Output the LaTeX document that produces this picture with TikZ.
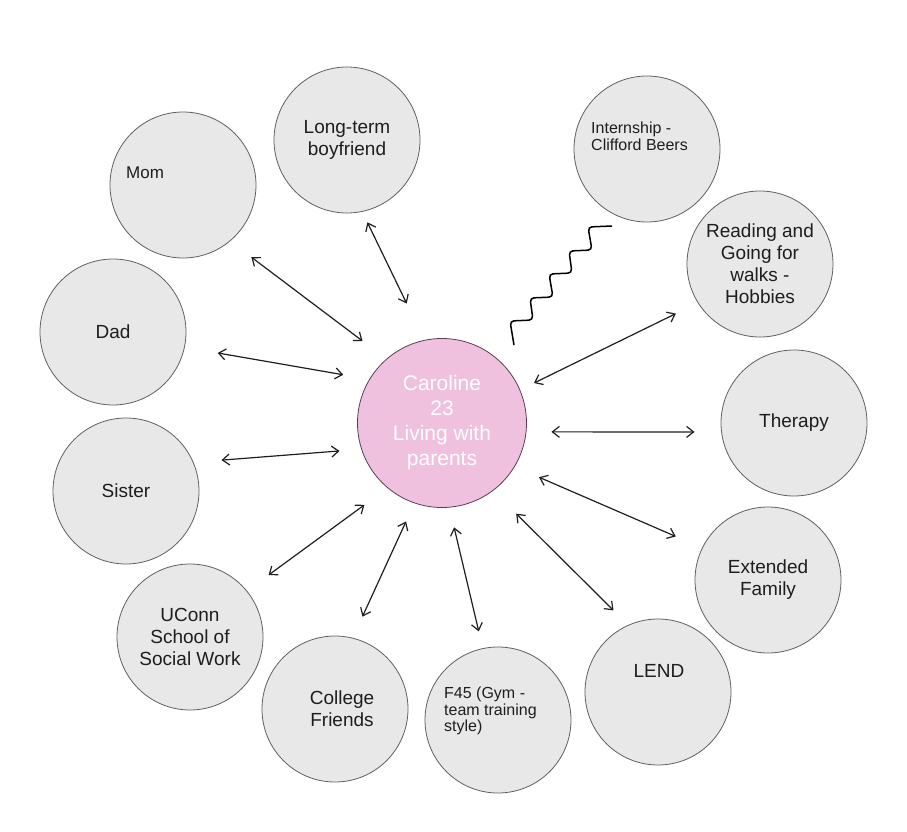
\documentclass[tikz,border=0pt]{standalone}
\usepackage{fontspec}
\setmainfont{Liberation Sans}
\usepackage{tikz}
\usetikzlibrary{arrows.meta}
\definecolor{ecogray}{RGB}{232,232,232}
\definecolor{ecoline}{RGB}{95,95,95}
\definecolor{ecopink}{RGB}{240,193,222}
\definecolor{ecopinkline}{RGB}{90,62,80}
\definecolor{ecoink}{RGB}{30,30,30}
\tikzset{
    ecobubble/.style={circle, draw=ecoline, line width=0.8pt, fill=ecogray,
        minimum size=146pt, inner sep=0pt, align=center, text=ecoink,
        font=\fontsize{19}{22}\selectfont},
    ecoself/.style={ecobubble, draw=ecopinkline, fill=ecopink,
        minimum size=169pt, text=white, font=\fontsize{21}{25}\selectfont},
    ecolabel/.style={inner sep=0pt, align=center, text=ecoink,
        font=\fontsize{19}{22}\selectfont},
    ecosmall/.style={inner sep=0pt, align=left, text=ecoink,
        font=\fontsize{16}{16.5}\selectfont},
    ecoarrow/.style={{Straight Barb[length=7pt,width=11pt]}-{Straight Barb[length=7pt,width=11pt]},
        line width=1.2pt, ecoink},
    ecowave/.style={line width=1.5pt, black, rounded corners=4pt}
}

\begin{document}
\begin{tikzpicture}[x=1pt, y=-1pt]
    \useasboundingbox (0,0) rectangle (907,832);

    \node[ecoself] (caroline) at (442,423)
        {Caroline\\23\\Living with\\parents};

    \node[ecobubble] (boyfriend) at (347,140) {Long-term\\boyfriend};
    \node[ecobubble] (mom) at (183,185) {};
    \node[ecosmall, anchor=west, font=\fontsize{17}{19}\selectfont]
        (momtext) at (126,173) {Mom};
    \node[ecobubble] (dad) at (113,332) {Dad};
    \node[ecobubble] (sister) at (126,491) {Sister};
    \node[ecobubble] (uconn) at (190,637) {UConn\\School of\\Social Work};
    \node[ecobubble] (college) at (335,709) {};
    \node[ecolabel] (collegetext) at (342,709) {College\\Friends};
    \node[ecobubble] (f45) at (498,720) {};
    \node[ecosmall, anchor=north west] (f45text) at (444,687)
        {F45 (Gym -\\team training\\style)};
    \node[ecobubble] (lend) at (658,692) {};
    \node[ecolabel] (lendtext) at (659,671) {LEND};
    \node[ecobubble] (extended) at (768,580) {Extended\\Family};
    \node[ecobubble] (therapy) at (794,423) {Therapy};
    \node[ecobubble] (reading) at (760,264)
        {Reading and\\Going for\\walks -\\Hobbies};
    \node[ecobubble] (internship) at (647,149) {};
    \node[ecosmall, anchor=north west] (internshiptext) at (591,122)
        {Internship -\\Clifford Beers};

    % ties to Caroline
    \draw[ecoarrow, shorten <=26.5pt, shorten >=29.8pt] (mom.-50) -- (caroline.131.9);
    \draw[ecoarrow, shorten <=11.7pt, shorten >=40.5pt] (boyfriend.-78.1) -- (caroline.102.7);
    \draw[ecoarrow, shorten <=33.4pt, shorten >=26.4pt] (dad.-12.9) -- (caroline.149.8);
    \draw[ecoarrow, shorten <=28pt, shorten >=21.8pt] (sister.23.3) -- (caroline.198.2);
    \draw[ecoarrow, shorten <=26.7pt, shorten >=28.5pt] (uconn.39.2) -- (caroline.-130.7);
    \draw[ecoarrow, shorten <=23.2pt, shorten >=20pt] (college.76.3) -- (caroline.-109.1);
    \draw[ecoarrow, shorten <=17.3pt, shorten >=20.3pt] (f45.102.7) -- (caroline.-85.7);
    \draw[ecoarrow, shorten <=20.7pt, shorten >=32.5pt] (lend.114.5) -- (caroline.-53.8);
    \draw[ecoarrow, shorten <=28.6pt, shorten >=26.4pt] (extended.154.2) -- (caroline.-31.8);
    \draw[ecoarrow, shorten <=26.6pt, shorten >=25pt] (therapy.187.1) -- (caroline.-6.1);
    \draw[ecoarrow, shorten <=24.4pt, shorten >=15.4pt] (reading.-148.3) -- (caroline.23.9);

    % strained tie to the internship
    \coordinate (wavestart) at (514,345);
    \draw[ecowave] (wavestart) -- ++(-4,-24) -- ++(23,-1) -- ++(-3,-22)
        -- ++(23,-1) -- ++(-4,-23) -- ++(23,-1) -- ++(-3,-22)
        -- ++(23,-1) -- ++(-4,-23) -- ++(24,-1);
\end{tikzpicture}
\end{document}
